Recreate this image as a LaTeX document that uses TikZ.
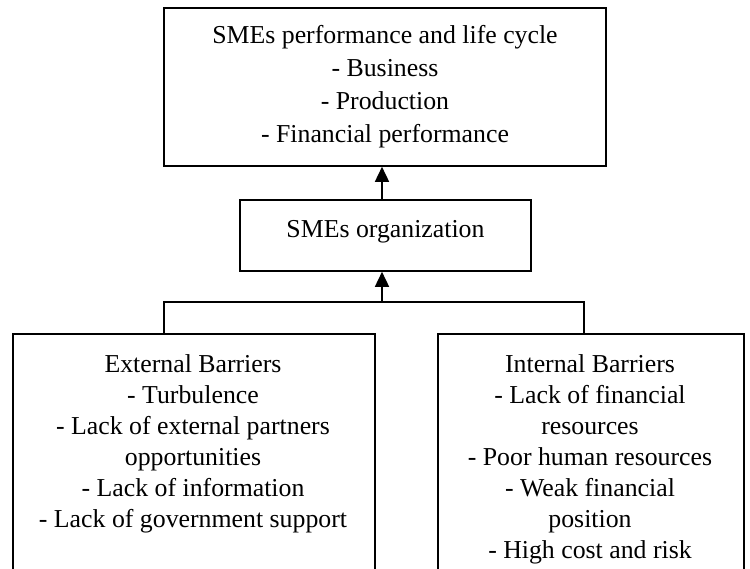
\documentclass[tikz,border=0pt]{standalone}
\usepackage{fontspec}
\setmainfont{Liberation Serif}
\usetikzlibrary{arrows.meta}
\begin{document}
\begin{tikzpicture}[x=1pt,y=-1pt,
  box/.style={draw=black,line width=1.6pt,inner sep=0pt,fill=none},
  label/.style={inner sep=0pt,align=center,anchor=north,
    font=\fontsize{25.8}{31}\selectfont},
  link/.style={draw=black,line width=1.6pt},
  uparrow/.style={link,-{Triangle[width=14pt,length=15pt]}}]
\useasboundingbox (0,0) rectangle (750,568);
\begin{scope}
\clip (0,0) rectangle (750,568);
% boxes
\node[box,minimum width=442pt,minimum height=158pt] (perf) at (385,87) {};
\node[box,minimum width=291pt,minimum height=71pt] (org) at (385.5,235.5) {};
\node[box,minimum width=362pt,minimum height=300pt,anchor=north west] (ext) at (12,333) {};
\node[box,minimum width=306pt,minimum height=300pt,anchor=north west] (int) at (437,333) {};
% texts
\node[label,font=\fontsize{25.8}{33}\selectfont] (perftxt) at (385,25) {SMEs performance and life cycle\\- Business\\- Production\\- Financial performance};
\node[label] (orgtxt) at (385.5,220) {SMEs organization};
\node[label] (exttxt) at (193,354) {External Barriers\\- Turbulence\\- Lack of external partners\\opportunities\\- Lack of information\\- Lack of government support};
\node[label] (inttxt) at (590,354) {Internal Barriers\\- Lack of financial\\resources\\- Poor human resources\\- Weak financial\\position\\- High cost and risk};
% connectors
\coordinate (join) at (382,302);
\draw[link] (ext.north -| 164,0) |- (join) -| (int.north -| 584,0);
\draw[uparrow] (join) -- (join |- org.south);
\draw[uparrow] (join |- org.north) -- (join |- perf.south);
\end{scope}
\end{tikzpicture}
\end{document}
